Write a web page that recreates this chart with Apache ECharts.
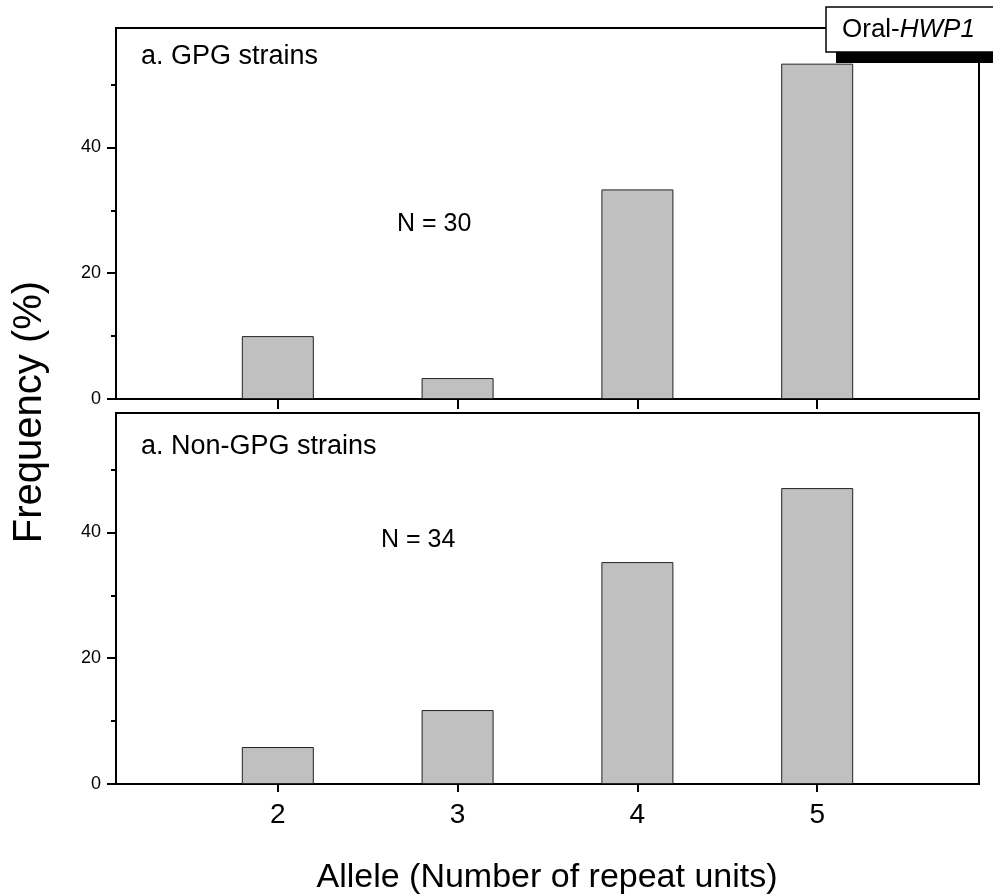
<!DOCTYPE html>
<html>
<head>
<meta charset="utf-8">
<script src="https://cdn.jsdelivr.net/npm/echarts@6/dist/echarts.min.js"></script>
<style>
html,body{margin:0;padding:0;background:#fff;}
#chart{width:993px;height:896px;}
</style>
</head>
<body>
<div id="chart"></div>
<script>
var alleles = [2, 3, 4, 5];
var gpgFreq = [10.0, 3.33, 33.33, 53.33];
var nonGpgFreq = [5.88, 11.76, 35.29, 47.06];
var yMajorTicks = [0, 20, 40];
var yMinorTicks = [10, 30, 50];
var xTicks = [2, 3, 4, 5];

var FONT = '"Liberation Sans", Arial, sans-serif';

function pairs(vals) { return alleles.map(function (a, i) { return [a, vals[i]]; }); }

var grids = [
  { left: 116, top: 28, width: 863, height: 371 },
  { left: 116, top: 413, width: 863, height: 371 }
];

function xAxisFor(gi, showLabels) {
  return {
    type: 'value', gridIndex: gi, min: 1.1, max: 5.9, position: 'bottom',
    splitLine: { show: false },
    axisLine: { show: true, onZero: false, lineStyle: { color: '#000', width: 2 } },
    axisTick: { show: true, customValues: xTicks, length: showLabels ? 8 : 10, inside: false, lineStyle: { color: '#000', width: 2 } },
    axisLabel: { show: showLabels, customValues: xTicks, fontSize: 28, color: '#000', fontFamily: FONT, margin: 17 }
  };
}
function yAxisMajor(gi) {
  return {
    type: 'value', gridIndex: gi, min: 0, max: 59, position: 'left',
    splitLine: { show: false },
    axisLine: { show: true, lineStyle: { color: '#000', width: 2 } },
    axisTick: { show: true, customValues: yMajorTicks, length: 9, lineStyle: { color: '#000', width: 2 } },
    axisLabel: { show: true, customValues: yMajorTicks, fontSize: 18, color: '#000', fontFamily: FONT, margin: 15 }
  };
}
function yAxisMinor(gi) {
  return {
    type: 'value', gridIndex: gi, min: 0, max: 59, position: 'left',
    splitLine: { show: false },
    axisLine: { show: false },
    axisTick: { show: true, customValues: yMinorTicks, length: 5, lineStyle: { color: '#000', width: 2 } },
    axisLabel: { show: false }
  };
}

var barStyle = { color: '#c0c0c0', borderColor: '#222', borderWidth: 1 };

var option = {
  animation: false,
  backgroundColor: '#fff',
  grid: grids.map(function (g) {
    return Object.assign({ show: true, borderColor: '#000', borderWidth: 2, backgroundColor: 'transparent' }, g);
  }),
  xAxis: [xAxisFor(0, false), xAxisFor(1, true)],
  yAxis: [yAxisMajor(0), yAxisMinor(0), yAxisMajor(1), yAxisMinor(1)],
  series: [
    { type: 'bar', xAxisIndex: 0, yAxisIndex: 0, data: pairs(gpgFreq), barWidth: 72, itemStyle: barStyle },
    { type: 'bar', xAxisIndex: 1, yAxisIndex: 2, data: pairs(nonGpgFreq), barWidth: 72, itemStyle: barStyle }
  ],
  graphic: [
    { type: 'text', left: 141, top: 43, style: { text: 'a. GPG strains', font: '27px ' + FONT, fill: '#000' } },
    { type: 'text', left: 141, top: 433, style: { text: 'a. Non-GPG strains', font: '27px ' + FONT, fill: '#000' } },
    { type: 'text', left: 397, top: 212, style: { text: 'N = 30', font: '25px ' + FONT, fill: '#000' } },
    { type: 'text', left: 381, top: 528, style: { text: 'N = 34', font: '25px ' + FONT, fill: '#000' } },
    { type: 'rect', shape: { x: 836, y: 50, width: 170, height: 13 }, style: { fill: '#000' }, z: 100 },
    { type: 'rect', shape: { x: 826, y: 7, width: 180, height: 45 }, style: { fill: '#fff', stroke: '#000', lineWidth: 1.5 }, z: 101 },
    { type: 'text', x: 842, y: 30, z: 102,
      style: {
        text: '{r|Oral-}{i|HWP1}', verticalAlign: 'middle',
        rich: {
          r: { font: '26px ' + FONT, fill: '#000' },
          i: { font: 'italic 26px ' + FONT, fill: '#000' }
        }
      } },
    { type: 'text', x: 547, y: 878, style: { text: 'Allele (Number of repeat units)', font: '34px ' + FONT, fill: '#000', align: 'center', verticalAlign: 'middle' } },
    { type: 'text', x: 30, y: 412, rotation: Math.PI / 2, style: { text: 'Frequency (%)', font: '40px ' + FONT, fill: '#000', align: 'center', verticalAlign: 'middle' } }
  ]
};

var chart = echarts.init(document.getElementById('chart'), null, { renderer: 'canvas' });
chart.setOption(option);
</script>
</body>
</html>
